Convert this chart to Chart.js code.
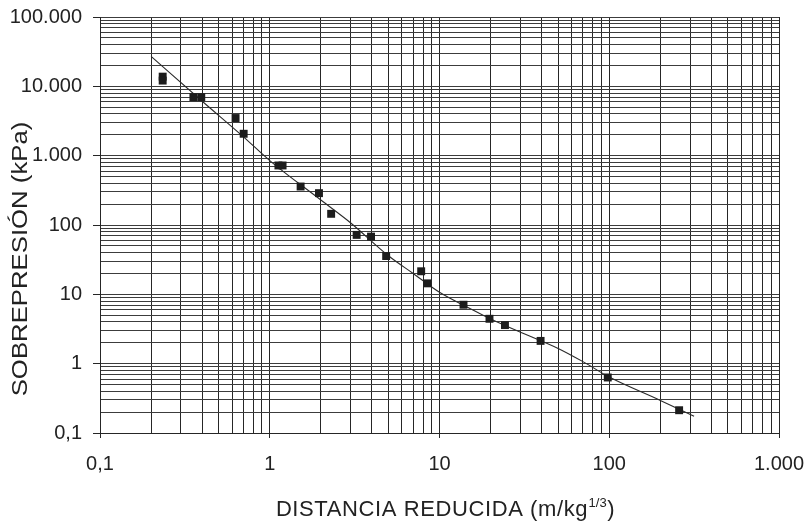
<!DOCTYPE html>
<html>
<head>
<meta charset="utf-8">
<script src="https://cdn.jsdelivr.net/npm/chart.js@4.4.0/dist/chart.umd.min.js"></script>
<style>
html, body { margin: 0; padding: 0; background: #fff; }
#wrap { width: 811px; height: 522px; position: relative; }
</style>
</head>
<body>
<div id="wrap"><canvas id="chart"></canvas></div>
<script>
// measured points: scaled distance (m/kg^1/3) and overpressure (kPa)
var distancia = [0.234, 0.234, 0.355, 0.395, 0.629, 0.702, 1.125, 1.19, 1.52, 1.95, 2.30, 3.25, 3.95, 4.85, 7.8, 8.46, 13.85, 19.7, 24.3, 39.4, 98, 258];
var sobrepresion = [13800, 12100, 6980, 6980, 3490, 2070, 722, 722, 359, 288, 145, 72, 68, 35.7, 21.5, 14.4, 7.08, 4.44, 3.6, 2.13, 0.632, 0.213];

// fitted curve
var curvaX = [0.2, 0.4, 0.7, 1, 2, 3, 5, 7, 10, 15, 20, 30, 50, 70, 100, 200, 316];
var curvaY = [27000, 6100, 1870, 850, 229, 107, 36, 20, 10.7, 6.3, 4.4, 2.85, 1.66, 1.07, 0.64, 0.295, 0.174];

var xTicks = [0.1, 1, 10, 100, 1000];
var xTickLabels = ['0,1', '1', '10', '100', '1.000'];
var yTicks = [0.1, 1, 10, 100, 1000, 10000, 100000];
var yTickLabels = ['0,1', '1', '10', '100', '1.000', '10.000', '100.000'];

var FONT = '"Liberation Sans", Arial, sans-serif';

// 1..9 x 10^n grid positions between two powers of ten
function logGrid(min, max) {
    var out = [];
    var e0 = Math.round(Math.log10(min)), e1 = Math.round(Math.log10(max));
    for (var e = e0; e < e1; e++) {
        for (var k = 1; k <= 9; k++) out.push(parseFloat((k * Math.pow(10, e)).toPrecision(6)));
    }
    out.push(max);
    return out;
}

function labelFor(v, vals, labels) {
    for (var i = 0; i < vals.length; i++) {
        if (Math.abs(Math.log10(v) - Math.log10(vals[i])) < 1e-6) return labels[i];
    }
    return '';
}

var axisTitles = {
    id: 'axisTitles',
    afterDraw: function(chart) {
        var ctx = chart.ctx, ca = chart.chartArea;
        ctx.save();
        ctx.fillStyle = '#222';
        ctx.textBaseline = 'alphabetic';
        ctx.textAlign = 'left';

        // x title with superscript 1/3
        var main = 'DISTANCIA REDUCIDA (m/kg', sup = '1/3', close = ')';
        ctx.font = '22px ' + FONT;
        ctx.letterSpacing = '0.6px';
        var w1 = ctx.measureText(main).width;
        var w3 = ctx.measureText(close).width;
        ctx.font = '13px ' + FONT;
        ctx.letterSpacing = '0px';
        var w2 = ctx.measureText(sup).width + 1;
        var x0 = (ca.left + ca.right) / 2 + 6 - (w1 + w2 + w3) / 2;
        var base = 516;
        ctx.font = '22px ' + FONT;
        ctx.letterSpacing = '0.6px';
        ctx.fillText(main, x0, base);
        ctx.font = '13px ' + FONT;
        ctx.letterSpacing = '0px';
        ctx.fillText(sup, x0 + w1 + 0.5, base - 9);
        ctx.font = '22px ' + FONT;
        ctx.fillText(close, x0 + w1 + w2, base);

        // y title, rotated
        ctx.translate(21, 259);
        ctx.rotate(-Math.PI / 2);
        ctx.scale(1.17, 1);
        ctx.textAlign = 'center';
        ctx.textBaseline = 'middle';
        ctx.font = '22px ' + FONT;
        ctx.fillText('SOBREPRESIÓN (kPa)', 0, 0);
        ctx.restore();
    }
};

var ctx = document.getElementById('chart').getContext('2d');
var chart = new Chart(ctx, {
    type: 'scatter',
    data: {
        datasets: [{
            data: distancia.map(function(x, i) { return {x: x, y: sobrepresion[i]}; }),
            pointStyle: 'rect',
            pointRadius: 5.6,
            pointBackgroundColor: '#1c1c1c',
            pointBorderWidth: 0,
            showLine: false
        }, {
            data: curvaX.map(function(x, i) { return {x: x, y: curvaY[i]}; }),
            showLine: true,
            borderColor: '#2a2a2a',
            borderWidth: 1.1,
            pointRadius: 0,
            cubicInterpolationMode: 'monotone'
        }]
    },
    options: {
        responsive: true,
        maintainAspectRatio: false,
        animation: false,
        layout: { padding: { left: 0, right: 32, top: 17, bottom: 0 } },
        plugins: { legend: { display: false }, tooltip: { enabled: false } },
        scales: {
            x: {
                type: 'logarithmic',
                min: 0.1,
                max: 1000,
                afterBuildTicks: function(scale) {
                    scale.ticks = logGrid(0.1, 1000).map(function(v) { return {value: v}; });
                },
                afterFit: function(scale) {
                    scale.height = 89;
                    scale.paddingLeft = 0;
                    scale.paddingRight = 0;
                },
                grid: {
                    color: '#262626',
                    lineWidth: 1,
                    tickLength: 5,
                    tickColor: function(c) {
                        return c.tick && labelFor(c.tick.value, xTicks, xTickLabels) ? '#262626' : 'rgba(0,0,0,0)';
                    }
                },
                border: { color: '#262626', width: 1 },
                ticks: {
                    autoSkip: false,
                    maxRotation: 0,
                    minRotation: 0,
                    padding: 14,
                    color: '#222',
                    font: { family: FONT, size: 20 },
                    callback: function(value) { return labelFor(value, xTicks, xTickLabels); }
                }
            },
            y: {
                type: 'logarithmic',
                min: 0.1,
                max: 100000,
                afterBuildTicks: function(scale) {
                    scale.ticks = logGrid(0.1, 100000).map(function(v) { return {value: v}; });
                },
                afterFit: function(scale) {
                    scale.width = 100;
                    scale.paddingTop = 0;
                    scale.paddingBottom = 0;
                },
                grid: {
                    color: '#3c3c3c',
                    lineWidth: 1,
                    tickLength: 7,
                    tickColor: function(c) {
                        return c.tick && labelFor(c.tick.value, yTicks, yTickLabels) ? '#262626' : 'rgba(0,0,0,0)';
                    }
                },
                border: { color: '#262626', width: 1 },
                ticks: {
                    autoSkip: false,
                    padding: 11,
                    color: '#222',
                    font: { family: FONT, size: 20 },
                    callback: function(value) { return labelFor(value, yTicks, yTickLabels); }
                }
            }
        }
    },
    plugins: [axisTitles]
});
</script>
</body>
</html>
